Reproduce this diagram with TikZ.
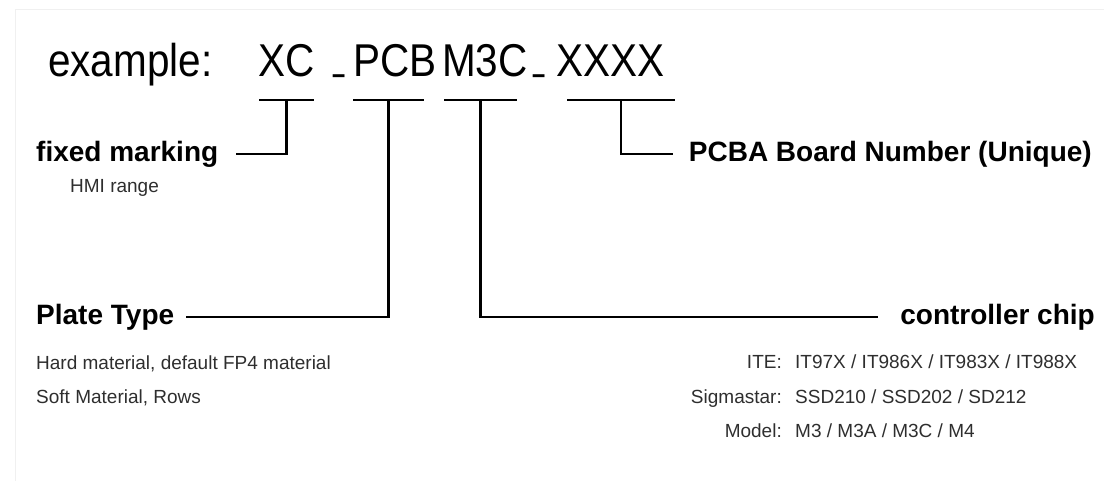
\documentclass[tikz,border=0pt]{standalone}
\usepackage{fontspec}
\setmainfont{Liberation Sans}
\newfontfamily\codefont[FakeStretch=0.88]{Liberation Sans}
\usetikzlibrary{calc}
\tikzset{
    part diagram/.style = {x=1pt, y=-1pt},
    line/.style         = {line width=2.8pt, black},
    code/.style         = {inner sep=0pt, anchor=base west,
                           font=\codefont\fontsize{46}{55}\selectfont},
    field/.style        = {inner sep=0pt,
                           font=\fontsize{28}{34}\selectfont\bfseries},
    note/.style         = {inner sep=0pt, text=black!82,
                           font=\fontsize{19}{23}\selectfont},
    frame/.style        = {black!6, line width=1pt}
}
\def\coderow{77}
\def\barrow{100}
\def\upperrow{154}
\def\lowerrow{317}
\def\firstrow{368}
\def\secondrow{403}
\def\thirdrow{437}
\def\labelgap{16pt}

\begin{document}
\begin{tikzpicture}[part diagram]
\useasboundingbox (0,0) rectangle (1104,481);
\draw[frame] (15,481) -- (15,10) -- (1104,10);

% The example part number, written piece by piece.
\node[code] (example) at (48,\coderow) {example:};
\node[code] (xc)   at (258,\coderow) {XC};
\node[code] (usa)  at (333,\coderow-8) {\scalebox{0.5}[1]{\_}};
\node[code] (pcb)  at (353,\coderow) {PCB};
\node[code] (m3c)  at (442,\coderow) {M3C};
\node[code] (usb)  at (533,\coderow-8) {\scalebox{0.5}[1]{\_}};
\node[code] (xxxx) at (556,\coderow) {XXXX};

% Field names.
\node[field, anchor=west] (fixed) at (36,\upperrow) {fixed marking};
\node[field, anchor=east] (board) at (1092,\upperrow)
    {PCBA Board Number (Unique)};
\node[field, anchor=west] (plate) at (36,\lowerrow) {Plate Type};
\node[field, anchor=east] (chip) at (1095,\lowerrow) {controller chip};

% Bars under each piece, with a leader down to its field name.
\coordinate (xcL) at (259,\barrow);
\coordinate (xcR) at (314,\barrow);
\coordinate (pcbL) at (353,\barrow);
\coordinate (pcbR) at (424,\barrow);
\coordinate (m3cL) at (444,\barrow);
\coordinate (m3cR) at (517,\barrow);
\coordinate (xxxxL) at (567,\barrow);
\coordinate (xxxxR) at (675,\barrow);
\draw[line] (xcL) -- (xcR);
\draw[line] (pcbL) -- (pcbR);
\draw[line] (m3cL) -- (m3cR);
\draw[line] (xxxxL) -- (xxxxR);
\draw[line, shorten >=18pt] ($(xcL)!0.5!(xcR)$) |- (fixed.east);
\draw[line, shorten >=12pt] ($(pcbL)!0.5!(pcbR)$) |- (plate.east);
\draw[line, shorten >=22pt] ($(m3cL)!0.5!(m3cR)$) |- (chip.west);
\draw[line, shorten >=\labelgap] ($(xxxxL)!0.5!(xxxxR)$) |- (board.west);

% Notes under the field names.
\node[note, anchor=base west] (hmi) at (70,193) {HMI range};
\node[note, anchor=base west] (hard) at (36,\firstrow+1)
    {Hard material, default FP4 material};
\node[note, anchor=base west] (soft) at (36,\secondrow) {Soft Material, Rows};
\node[note, anchor=base east] (ite) at (782,\firstrow) {ITE:};
\node[note, anchor=base west] (itelist) at (795,\firstrow)
    {IT97X / IT986X / IT983X / IT988X};
\node[note, anchor=base east] (sigma) at (782,\secondrow) {Sigmastar:};
\node[note, anchor=base west] (sigmalist) at (795,\secondrow)
    {SSD210 / SSD202 / SD212};
\node[note, anchor=base east] (model) at (782,\thirdrow) {Model:};
\node[note, anchor=base west] (modellist) at (795,\thirdrow)
    {M3 / M3A / M3C / M4};

\end{tikzpicture}
\end{document}
